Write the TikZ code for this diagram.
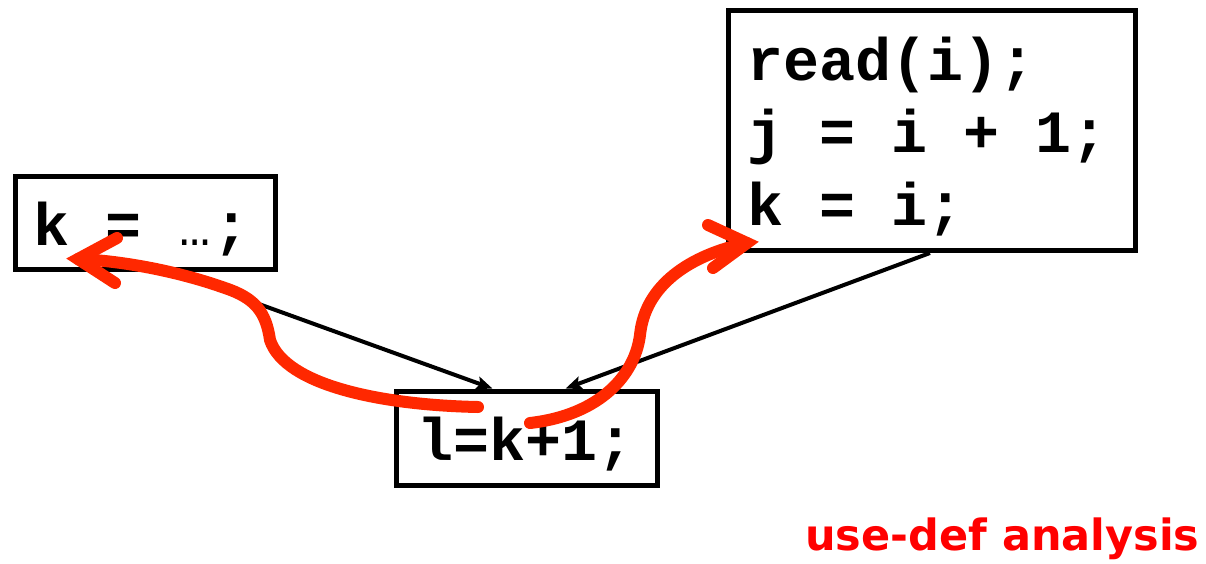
\documentclass[tikz,border=0pt]{standalone}
\usepackage{fontspec}
\setmonofont{Liberation Mono}
\newfontfamily\captionfont{DejaVu Sans}
\usetikzlibrary{arrows.meta,calc}
\definecolor{flowred}{RGB}{255,40,0}
\definecolor{titlered}{RGB}{255,0,0}
\tikzset{
  block/.style={draw=black,line width=5pt,inner sep=0pt,fill=none},
  code/.style={font=\ttfamily\bfseries\fontsize{60}{73}\selectfont,inner sep=0pt,anchor=base west},
  cfgedge/.style={draw=black,line width=4pt,-{Stealth[length=16pt,width=13pt,inset=3pt]}},
  flow/.style={draw=flowred,line width=12pt,line cap=round,line join=round},
  flowhead/.style={draw=flowred,line width=12pt,line cap=round,line join=miter},
}
\begin{document}
\begin{tikzpicture}[x=1pt,y=-1pt]
\useasboundingbox (0,0) rectangle (1206,563);

% basic blocks
\node[block,minimum width=260pt,minimum height=93.5pt] (kbox) at (145.5,222.75) {};
\node[block,minimum width=407pt,minimum height=240.5pt] (rbox) at (932,130.25) {};
\node[block,minimum width=261pt,minimum height=94pt] (lbox) at (526.5,438) {};

% statements
\node[code] (kdef) at (33,245) {k = \makebox[36pt]{\mdseries\fontsize{52}{54}\selectfont…};};
\node[code] (s1) at (747,80) {read(i);};
\node[code] (s2) at (747,152) {j = i + 1;};
\node[code] (s3) at (747,225) {k = i;};
\node[code] (use) at (417,460) {l=k+1;};

% control-flow edges
\coordinate (kout) at ($(kbox.south west)!0.594!(kbox.south east)$);
\coordinate (rout) at ($(rbox.south west)!0.495!(rbox.south east)$);
\coordinate (lin1) at ($(lbox.north west)!0.372!(lbox.north east)$);
\coordinate (lin2) at ($(lbox.north west)!0.647!(lbox.north east)$);
\draw[cfgedge] (kout) -- (lin1);
\draw[cfgedge] (rout) -- (lin2);

% use-def chains
\coordinate (ustart1) at (478,407);
\coordinate (utip1) at (78,259);
\coordinate (ustart2) at (530,423);
\coordinate (utip2) at (747,243);
\draw[flow] (ustart1) .. controls (380,405) and (285,385) .. (270,340)
  .. controls (266,312) and (255,298) .. (225,288)
  .. controls (180,272) and (125,261) .. (utip1);
\draw[flowhead] (117,238) -- (utip1) -- (115,283);
\draw[flow] (ustart2) .. controls (600,415) and (635,375) .. (640,335)
  .. controls (645,285) and (690,255) .. (utip2);
\draw[flowhead] (708,225) -- (utip2) -- (713,268);

% caption
\node[font=\captionfont\bfseries\fontsize{43}{50}\selectfont,text=titlered,inner sep=0pt,anchor=base west] (caption) at (805,550) {use-def analysis};
\end{tikzpicture}
\end{document}
